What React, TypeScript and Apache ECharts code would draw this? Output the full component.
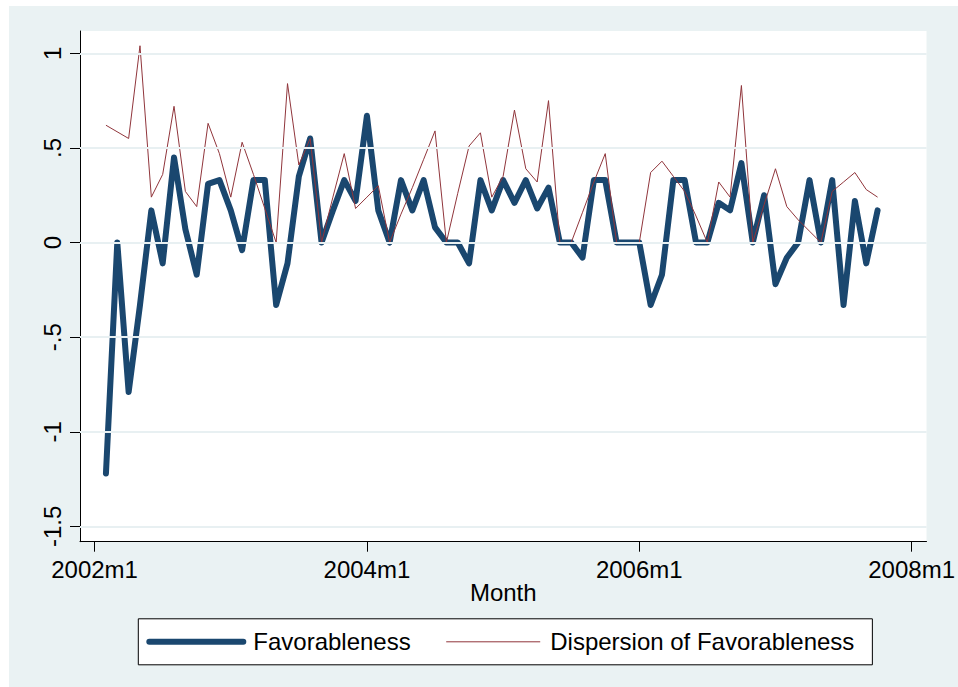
import React, { useEffect, useRef } from "react";
import * as echarts from "echarts";

// Monthly series, first observation 2002m2
const START_YEAR = 2002;
const START_MONTH = 2;

const favorableness = [
  -1.22, 0.0, -0.79, -0.33, 0.17, -0.11, 0.45, 0.07, -0.17, 0.31,
  0.33, 0.17, -0.04, 0.33, 0.33, -0.33, -0.11, 0.35, 0.55, 0.0,
  0.17, 0.33, 0.22, 0.67, 0.17, 0.0, 0.33, 0.17, 0.33, 0.08,
  0.0, 0.0, -0.11, 0.33, 0.17, 0.33, 0.21, 0.33, 0.18, 0.29,
  0.0, 0.0, -0.08, 0.33, 0.33, 0.0, 0.0, 0.0, -0.33, -0.17,
  0.33, 0.33, 0.0, 0.0, 0.21, 0.17, 0.42, 0.0, 0.25, -0.22,
  -0.08, 0.0, 0.33, 0.0, 0.33, -0.33, 0.22, -0.11, 0.17,
];

const dispersion: (number | null)[] = [
  0.62, null, 0.55, 1.04, 0.24, 0.36, 0.72, 0.27, 0.19, 0.63,
  0.47, 0.24, 0.53, 0.36, 0.18, 0.0, 0.84, 0.41, 0.55, 0.0,
  0.24, 0.47, 0.18, 0.24, 0.3, 0.0, 0.15, 0.29, 0.44, 0.59,
  0.0, 0.26, 0.51, 0.58, 0.24, 0.35, 0.7, 0.39, 0.32, 0.75,
  0.0, 0.0, 0.16, 0.32, 0.47, 0.0, 0.0, 0.0, 0.37, 0.43,
  0.35, 0.27, 0.14, 0.0, 0.32, 0.24, 0.83, 0.0, 0.2, 0.39,
  0.19, 0.12, 0.06, 0.0, 0.27, 0.32, 0.37, 0.28, 0.24,
];

const months: string[] = favorableness.map((_, k) => {
  const t = START_MONTH - 1 + k;
  return `${START_YEAR + Math.floor(t / 12)}m${(t % 12) + 1}`;
});

const xTickLabels = ["2002m1", "2004m1", "2006m1", "2008m1"];
const yTickValues = [-1.5, -1, -0.5, 0, 0.5, 1];
const yTickLabels = ["-1.5", "-1", "-.5", "0", ".5", "1"];

function monthIndex(label: string): number {
  const [y, m] = label.split("m").map(Number);
  return (y - 2002) * 12 + (m - 1);
}
const xTickValues = xTickLabels.map(monthIndex);

const FONT = "Liberation Sans, Arial, sans-serif";

export default function App() {
  const ref = useRef<HTMLDivElement>(null);
  useEffect(() => {
    if (!ref.current) return;
    const chart = echarts.init(ref.current, undefined, { renderer: "svg" });
    const favData = months.map((m, k) => [monthIndex(m), favorableness[k]]);
    const dispData = months.map((m, k) => [monthIndex(m), dispersion[k]]);
    chart.setOption({
      animation: false,
      backgroundColor: "#EAF2F3",
      textStyle: { fontFamily: FONT },
      grid: {
        left: 71,
        top: 25,
        right: 25.3,
        bottom: 145.3,
        show: true,
        backgroundColor: "#ffffff",
        borderWidth: 0,
      },
      xAxis: {
        type: "value",
        min: -1.286,
        max: 73.31,
        name: "Month",
        nameLocation: "middle",
        nameGap: 39,
        nameMoveOverlap: false,
        nameTextStyle: { fontSize: 24, color: "#000", fontFamily: FONT },
        axisLine: { show: true, onZero: false, lineStyle: { color: "#000", width: 1 } },
        axisTick: {
          show: true,
          length: 10,
          customValues: xTickValues,
          lineStyle: { color: "#000", width: 1 },
        },
        axisLabel: {
          customValues: xTickValues,
          formatter: (v: number) => {
            const i = xTickValues.indexOf(Math.round(v));
            return i >= 0 ? xTickLabels[i] : "";
          },
          fontSize: 24,
          color: "#000",
          fontFamily: FONT,
          margin: 16,
        },
        splitLine: { show: false },
      },
      yAxis: {
        type: "value",
        min: -1.581,
        max: 1.118,
        axisLine: { show: true, onZero: false, lineStyle: { color: "#000", width: 1 } },
        axisTick: {
          show: true,
          length: 10,
          customValues: yTickValues,
          lineStyle: { color: "#000", width: 1 },
        },
        axisLabel: {
          customValues: yTickValues,
          rotate: 90,
          formatter: (v: number) => {
            const i = yTickValues.findIndex((t) => Math.abs(t - v) < 1e-6);
            return i >= 0 ? yTickLabels[i] : "";
          },
          fontSize: 24,
          color: "#000",
          fontFamily: FONT,
          margin: 16,
        },
        splitLine: { show: false },
      },
      legend: {
        data: [{ name: "Favorableness" }, { name: "Dispersion of Favorableness" }],
        left: 129.3,
        top: 612.8,
        orient: "horizontal",
        backgroundColor: "#ffffff",
        borderColor: "#000",
        borderWidth: 1,
        borderRadius: 0,
        padding: [11, 18, 11, 8],
        itemWidth: 94,
        itemHeight: 14,
        itemGap: 35,
        selectedMode: false,
        itemStyle: { color: "rgba(0,0,0,0)", borderColor: "rgba(0,0,0,0)", borderWidth: 0 },
        lineStyle: { width: "inherit" },
        textStyle: {
          fontSize: 24,
          color: "#000",
          fontFamily: FONT,
          padding: [0, 0, 0, 5],
        },
      },
      series: [
        {
          name: "gridlines",
          type: "line",
          data: [],
          silent: true,
          markLine: {
            silent: true,
            symbol: ["none", "none"],
            label: { show: false },
            lineStyle: { color: "#E8F0F2", width: 2, type: "solid" },
            data: yTickValues.map((v) => ({ yAxis: v })),
          },
        },
        {
          name: "Favorableness",
          type: "line",
          data: favData,
          showSymbol: false,
          symbol: "none",
          lineStyle: { color: "#1A476F", width: 6, cap: "round", join: "round" },
          itemStyle: { color: "#1A476F" },
        },
        {
          name: "Dispersion of Favorableness",
          type: "line",
          data: dispData,
          connectNulls: true,
          showSymbol: false,
          symbol: "none",
          lineStyle: { color: "#90353B", width: 1 },
          itemStyle: { color: "#90353B" },
        },
      ],
    });
    return () => chart.dispose();
  }, []);
  return (
    <div
      ref={ref}
      style={{ position: "fixed", left: 9, top: 6, width: 949, height: 681 }}
    />
  );
}
